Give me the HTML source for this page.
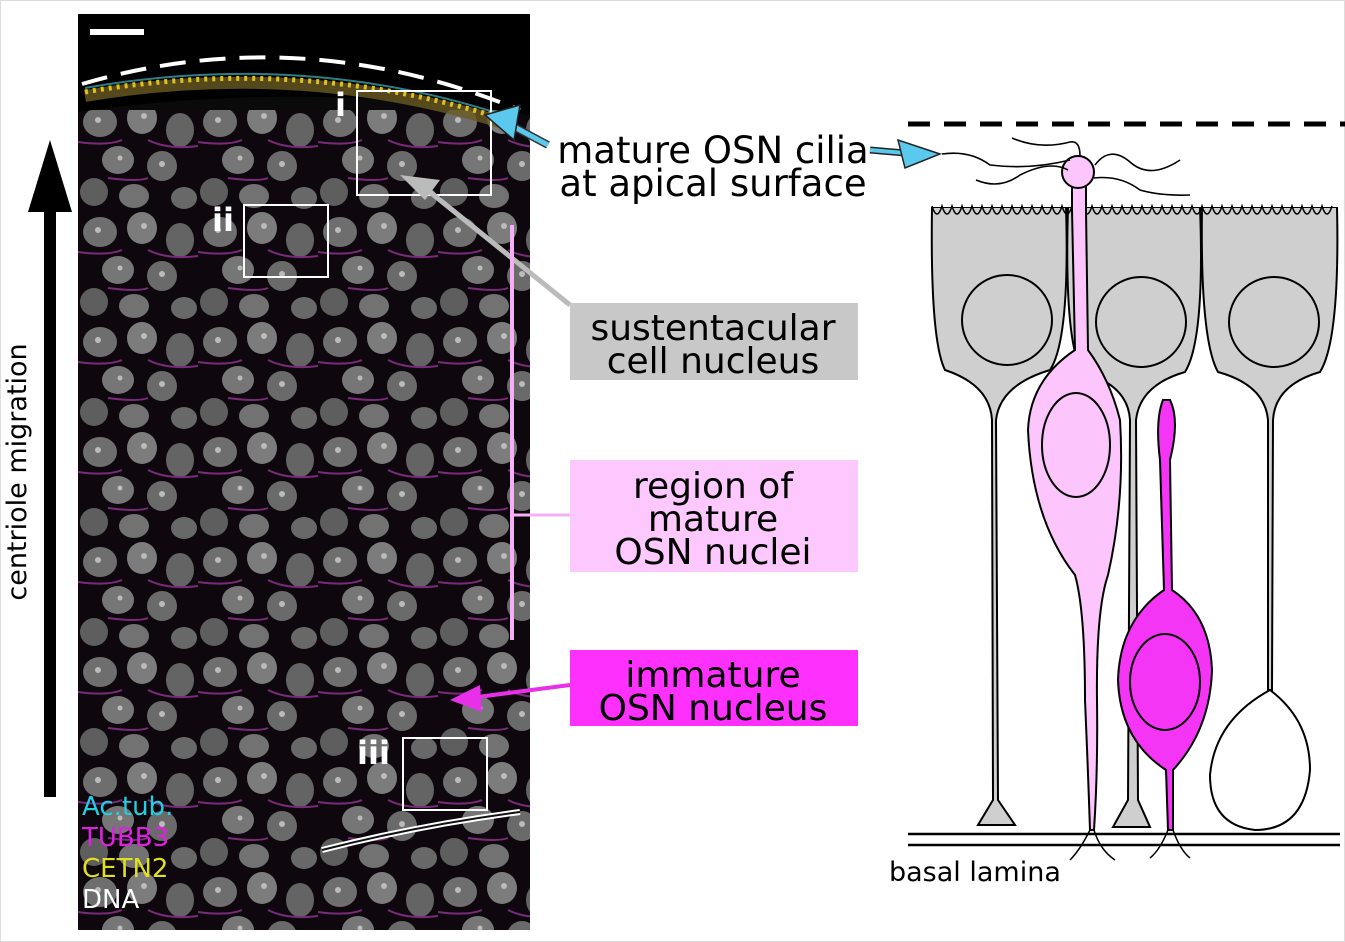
<!DOCTYPE html>
<html><head><meta charset="utf-8"><style>
body{margin:0;background:#fff}
svg{display:block}
text{font-family:"DejaVu Sans","Liberation Sans",sans-serif}
</style></head><body>
<svg width="1345" height="942" viewBox="0 0 1345 942" xmlns="http://www.w3.org/2000/svg">
<defs>
<pattern id="nuc" x="78" y="100" width="120" height="110" patternUnits="userSpaceOnUse">
<rect width="120" height="110" fill="#0e080e"/>
<ellipse cx="22" cy="22" rx="17" ry="15" fill="#6e6e6e"/>
<ellipse cx="64" cy="18" rx="15" ry="16" fill="#7c7c7c"/>
<ellipse cx="102" cy="30" rx="14" ry="17" fill="#646464"/>
<ellipse cx="40" cy="60" rx="16" ry="14" fill="#767676"/>
<ellipse cx="84" cy="66" rx="15" ry="15" fill="#6a6a6a"/>
<ellipse cx="16" cy="92" rx="14" ry="14" fill="#5e5e5e"/>
<ellipse cx="56" cy="96" rx="15" ry="12" fill="#727272"/>
<ellipse cx="106" cy="98" rx="13" ry="11" fill="#686868"/>
<circle cx="20" cy="20" r="3" fill="#bbb"/><circle cx="66" cy="16" r="3" fill="#bbb"/><circle cx="84" cy="64" r="3" fill="#bbb"/><circle cx="42" cy="58" r="2.5" fill="#bbb"/>
<path d="M0 42 Q30 46 44 40 M70 40 Q90 50 120 46 M30 78 Q60 82 70 78" stroke="#7a2a7a" stroke-width="2" fill="none"/>
</pattern>
</defs>
<rect x="0.5" y="0.5" width="1344" height="941" fill="#fff" stroke="#ddd"/>
<rect x="78" y="14" width="452" height="916" fill="#0a0a0a"/>
<rect x="78" y="110" width="452" height="820" fill="url(#nuc)"/>
<path d="M78 14 H530 V115 Q300 80 78 112 Z" fill="#000"/>
<path d="M85 96 Q300 60 500 122" stroke="#6a5a20" stroke-width="12" fill="none" opacity=".8"/>
<path d="M85 92 Q300 55 500 118" stroke="#e0c020" stroke-width="5" stroke-dasharray="3,5" fill="none"/>
<path d="M85 88 Q300 50 500 114" stroke="#40b0c0" stroke-width="2" fill="none" opacity=".7"/>
<path d="M82 84 Q300 20 520 110" stroke="#fff" stroke-width="4" stroke-dasharray="26,14" fill="none"/>
<rect x="90" y="29" width="54" height="6" fill="#fff"/>
<rect x="357" y="91" width="134" height="104" fill="none" stroke="#fff" stroke-width="2"/>
<rect x="244" y="205" width="84" height="72" fill="none" stroke="#fff" stroke-width="2"/>
<rect x="403" y="738" width="84" height="72" fill="none" stroke="#fff" stroke-width="2"/>
<text x="335" y="116" fill="#fff" font-size="32" font-weight="bold">i</text>
<text x="212" y="231" fill="#fff" font-size="32" font-weight="bold">ii</text>
<text x="357" y="764" fill="#fff" font-size="32" font-weight="bold">iii</text>
<path d="M322 850 Q420 825 520 812" stroke="#fff" stroke-width="6" fill="none"/>
<path d="M322 850 Q420 825 520 812" stroke="#111" stroke-width="2" fill="none"/>
<text x="82" y="815" fill="#20d0e0" font-size="26">Ac.tub.</text>
<text x="82" y="846" fill="#e020e0" font-size="26">TUBB3</text>
<text x="82" y="877" fill="#e0e020" font-size="26">CETN2</text>
<text x="82" y="908" fill="#fff" font-size="26">DNA</text>
<rect x="44" y="205" width="12" height="592" fill="#000"/>
<polygon points="50,140 28,212 72,212" fill="#000"/>
<text transform="translate(26,472) rotate(-90)" text-anchor="middle" font-size="27">centriole migration</text>
<line x1="548" y1="145" x2="505" y2="122" stroke="#333" stroke-width="8"/>
<line x1="548" y1="145" x2="505" y2="122" stroke="#5bc8ee" stroke-width="5"/>
<polygon points="485,115 520,105 514,140" fill="#5bc8ee" stroke="#222" stroke-width="1.5"/>
<line x1="570" y1="305" x2="430" y2="192" stroke="#bbb" stroke-width="5"/>
<polygon points="400,175 440,180 425,200" fill="#bbb"/>
<line x1="512" y1="225" x2="512" y2="640" stroke="#f5b0f5" stroke-width="4"/>
<line x1="512" y1="515" x2="570" y2="515" stroke="#f5b0f5" stroke-width="3"/>
<line x1="570" y1="685" x2="470" y2="698" stroke="#e830e8" stroke-width="4"/>
<polygon points="450,700 480,685 482,712" fill="#e830e8"/>
<g font-size="37" text-anchor="middle">
<text x="713" y="163">mature OSN cilia</text>
<text x="713" y="196">at apical surface</text>
</g>
<line x1="870" y1="150" x2="905" y2="153" stroke="#222" stroke-width="7"/>
<line x1="870" y1="150" x2="905" y2="153" stroke="#5bc8ee" stroke-width="4"/>
<polygon points="940,154 898,140 905,168" fill="#5bc8ee" stroke="#222" stroke-width="1.5"/>
<rect x="570" y="303" width="288" height="77" fill="#c8c8c8"/>
<rect x="570" y="460" width="288" height="112" fill="#fdc8fd"/>
<rect x="570" y="650" width="288" height="76" fill="#fd30fd"/>
<g font-size="36" text-anchor="middle">
<text x="713" y="340">sustentacular</text>
<text x="713" y="373">cell nucleus</text>
<text x="713" y="498">region of</text>
<text x="713" y="531">mature</text>
<text x="713" y="564">OSN nuclei</text>
<text x="713" y="687">immature</text>
<text x="713" y="720">OSN nucleus</text>
</g>
<line x1="908" y1="124" x2="1345" y2="124" stroke="#000" stroke-width="5" stroke-dasharray="22,14"/>
<g stroke="#000" stroke-width="2" fill="#cfcfcf">
<path d="M932 207 L1066 207 Q1070 340 1050 370 Q1000 385 996 420 L998 800 L1015 825 L978 825 L993 800 L992 420 Q990 385 945 370 Q930 340 932 207Z"/>
<path d="M1068 207 L1200 207 Q1205 340 1185 372 Q1140 385 1136 420 L1138 800 L1150 827 L1113 827 L1128 800 L1130 420 Q1128 385 1082 372 Q1064 340 1068 207Z"/>
<path d="M1202 207 L1337 207 Q1340 340 1320 372 Q1275 385 1273 420 L1272 690 L1268 690 L1268 420 Q1265 385 1218 372 Q1200 340 1202 207Z"/>
<circle cx="1007" cy="320" r="45"/><circle cx="1141" cy="322" r="45"/><circle cx="1274" cy="322" r="45"/>
</g>
<rect x="931" y="200" width="408" height="7" fill="#fff"/>
<path d="M932 206 q5 16 10 0 q5 16 10 0 q5 16 10 0 q5 16 10 0 q5 16 10 0 q5 16 10 0 q5 16 10 0 q5 16 10 0 q5 16 10 0 q5 16 10 0 q5 16 10 0 q5 16 10 0 q5 16 10 0 q5 16 10 0 q5 16 10 0 q5 16 10 0 q5 16 10 0 q5 16 10 0 q5 16 10 0 q5 16 10 0 q5 16 10 0 q5 16 10 0 q5 16 10 0 q5 16 10 0 q5 16 10 0 q5 16 10 0 q5 16 10 0 q5 16 10 0 q5 16 10 0 q5 16 10 0 q5 16 10 0 q5 16 10 0 q5 16 10 0 q5 16 10 0 q5 16 10 0 q5 16 10 0 q5 16 10 0 q5 16 10 0 q5 16 10 0 q5 16 10 0" stroke="#000" stroke-width="1.5" fill="none"/>
<path d="M1270 690 Q1310 720 1310 770 Q1305 830 1255 830 Q1210 825 1210 775 Q1215 720 1270 690Z" fill="#fff" stroke="#000" stroke-width="2"/>
<g stroke="#000" stroke-width="2" fill="#fcc6fc">
<path d="M1072 185 L1072 210 L1075 350 Q1030 380 1028 430 Q1032 520 1075 575 Q1085 610 1085 700 Q1088 770 1090 830 L1094 830 Q1098 770 1097 700 Q1096 610 1108 575 Q1125 500 1120 420 Q1110 380 1088 350 L1086 210 L1086 185Z"/>
<circle cx="1078" cy="172" r="16"/>
<ellipse cx="1076" cy="445" rx="34" ry="52"/>
</g>
<g stroke="#000" stroke-width="2" fill="#f535f5">
<path d="M1163 400 Q1155 420 1160 460 L1164 590 Q1120 620 1118 680 Q1120 740 1166 770 L1168 830 L1173 830 L1173 770 Q1210 730 1212 670 Q1210 615 1172 590 L1170 460 Q1180 420 1170 400Z"/>
<ellipse cx="1165" cy="682" rx="35" ry="48"/>
</g>
<g stroke="#000" stroke-width="1.6" fill="none">
<path d="M942 154 Q970 150 990 165 Q1030 170 1070 160"/>
<path d="M1012 138 Q1040 150 1070 142 Q1080 140 1080 156"/>
<path d="M976 180 Q1000 190 1020 175 Q1050 160 1068 170"/>
<path d="M1095 165 Q1110 145 1130 162 Q1150 180 1180 160"/>
<path d="M1094 178 Q1120 175 1140 190 Q1160 196 1190 195"/>
</g>
<line x1="908" y1="834" x2="1340" y2="834" stroke="#000" stroke-width="2.5"/>
<line x1="908" y1="845" x2="1340" y2="845" stroke="#000" stroke-width="2.5"/>
<path d="M1090 830 Q1080 850 1070 860 M1094 830 Q1100 850 1115 860 M1168 830 Q1160 850 1150 858 M1173 830 Q1180 850 1190 858" stroke="#000" stroke-width="1.5" fill="none"/>
<text x="889" y="881" font-size="27">basal lamina</text>
</svg>
</body></html>
